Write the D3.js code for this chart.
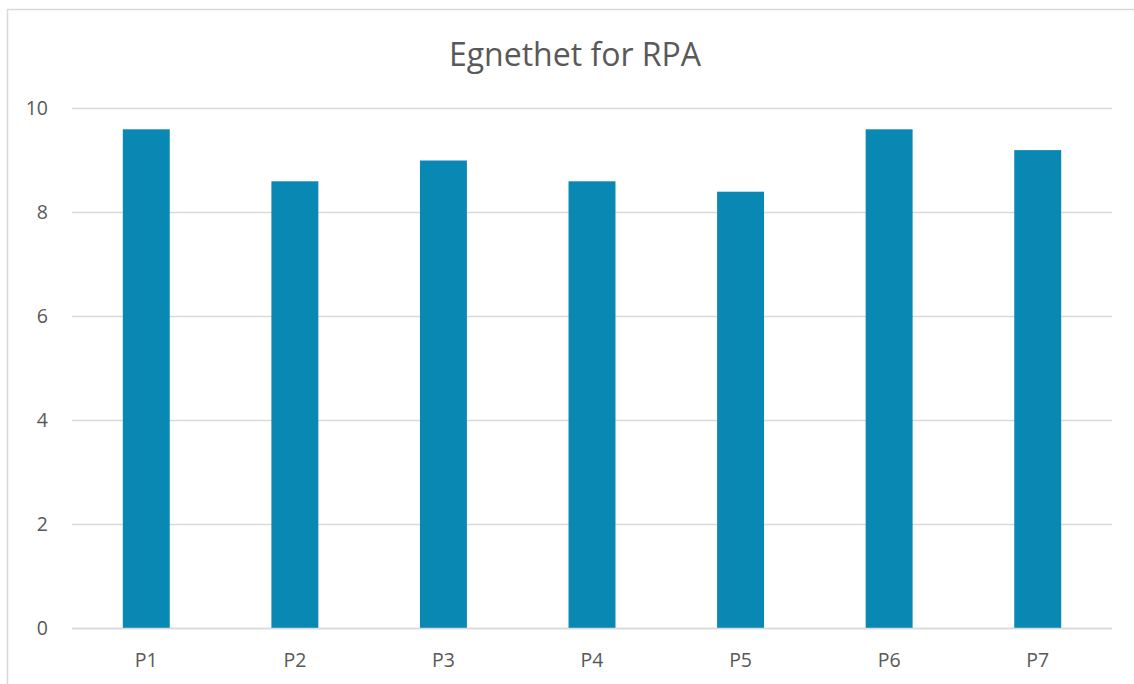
<!DOCTYPE html>
<html>
<head>
<meta charset="utf-8">
<script src="https://cdn.jsdelivr.net/npm/d3@7"></script>
<style>
  html, body { margin: 0; padding: 0; background: #fff; }
  svg { display: block; }
  text { font-family: "Open Sans", "Liberation Sans", sans-serif; fill: #595959; }
</style>
</head>
<body>
<svg id="chart" width="1134" height="684"></svg>
<script>
// Suitability scores per process
const categories = ["P1", "P2", "P3", "P4", "P5", "P6", "P7"];
const values = [9.6, 8.6, 9.0, 8.6, 8.4, 9.6, 9.2];
const yTicks = [0, 2, 4, 6, 8, 10];
const title = "Egnethet for RPA";

const svg = d3.select("#chart");
const plot = { left: 72, right: 1112, top: 108.5, bottom: 628.5 };

// Outer chart frame
svg.append("rect")
  .attr("x", 7.5).attr("y", 9.5)
  .attr("width", 1140).attr("height", 700)
  .attr("fill", "#fff")
  .attr("stroke", "#d9d9d9").attr("stroke-width", 1.5);

const x = d3.scaleBand()
  .domain(categories)
  .range([plot.left, plot.right])
  .paddingInner(0.684)
  .paddingOuter(0.342);

const y = d3.scaleLinear()
  .domain([0, 10])
  .range([plot.bottom, plot.top]);

// Horizontal gridlines
svg.append("g")
  .selectAll("line")
  .data(yTicks)
  .join("line")
  .attr("x1", plot.left).attr("x2", plot.right)
  .attr("y1", d => y(d)).attr("y2", d => y(d))
  .attr("stroke", "#d9d9d9").attr("stroke-width", 1.5);

// Y axis labels
const yAxis = d3.axisLeft(y).tickValues(yTicks).tickSize(0).tickPadding(0);
svg.append("g")
  .attr("transform", `translate(48,0)`)
  .call(yAxis)
  .call(g => g.select(".domain").remove())
  .call(g => g.selectAll("text")
    .attr("font-size", 19.5)
    .style("font-family", null)
    .attr("fill", "#595959")
    .attr("text-anchor", "end"));

// Bars
svg.append("g")
  .selectAll("rect")
  .data(values)
  .join("rect")
  .attr("x", (d, i) => x(categories[i]))
  .attr("width", x.bandwidth())
  .attr("y", d => y(d))
  .attr("height", d => y(0) - y(d))
  .attr("fill", "#0a88b4");

// X axis labels
const xAxis = d3.axisBottom(x).tickSize(0).tickPadding(0);
svg.append("g")
  .attr("transform", `translate(0,${plot.bottom + 25})`)
  .call(xAxis)
  .call(g => g.select(".domain").remove())
  .call(g => g.selectAll("text")
    .attr("font-size", 19.5)
    .style("font-family", null)
    .attr("fill", "#595959")
    .attr("dy", "0.71em"));

// Zero baseline on top of bars
svg.append("line")
  .attr("x1", plot.left).attr("x2", plot.right)
  .attr("y1", y(0)).attr("y2", y(0))
  .attr("stroke", "#d9d9d9").attr("stroke-width", 1.5);

// Title
svg.append("text")
  .attr("x", 575).attr("y", 66)
  .attr("text-anchor", "middle")
  .attr("font-size", 32)
  .text(title);
</script>
</body>
</html>
